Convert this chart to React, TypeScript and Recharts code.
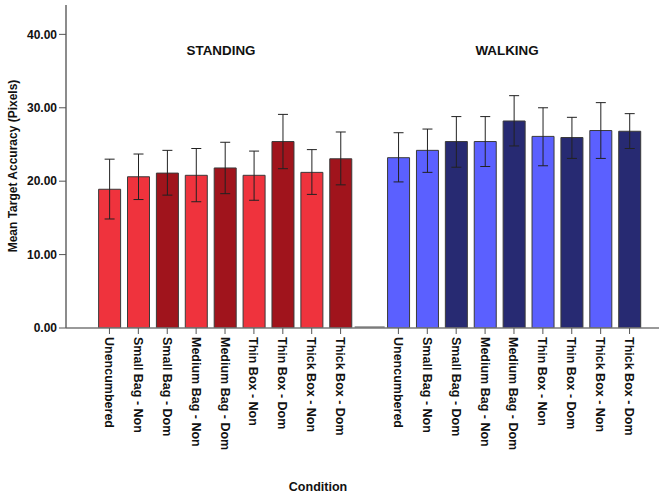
import React from "react";
import { BarChart, Bar, XAxis, YAxis, ErrorBar, Cell, Rectangle } from "recharts";

const conditions = [
  "Unencumbered",
  "Small Bag - Non",
  "Small Bag - Dom",
  "Medium Bag - Non",
  "Medium Bag - Dom",
  "Thin Box - Non",
  "Thin Box - Dom",
  "Thick Box - Non",
  "Thick Box - Dom",
];

// mean and 95% CI bounds
const standingMean = [18.9, 20.6, 21.1, 20.8, 21.8, 20.8, 25.4, 21.2, 23.05];
const standingLow = [14.85, 17.5, 18.1, 17.2, 18.3, 17.4, 21.7, 18.2, 19.5];
const standingHigh = [23.0, 23.7, 24.2, 24.45, 25.3, 24.1, 29.1, 24.3, 26.7];

const walkingMean = [23.2, 24.2, 25.4, 25.4, 28.2, 26.1, 25.95, 26.9, 26.8];
const walkingLow = [19.9, 21.2, 21.9, 22.0, 24.8, 22.1, 23.1, 23.1, 24.45];
const walkingHigh = [26.6, 27.1, 28.8, 28.8, 31.65, 30.0, 28.7, 30.7, 29.2];

const yTicks = [0, 10, 20, 30, 40];

const FONT = "'Liberation Sans', Arial, sans-serif";

type Row = {
  key: string;
  label: string;
  group: string;
  mean: number;
  err?: [number, number];
};

const build = (group: string, mean: number[], low: number[], high: number[]): Row[] =>
  conditions.map((c, i) => ({
    key: `${group}:${c}`,
    label: c,
    group,
    mean: mean[i],
    err: [mean[i] - low[i], high[i] - mean[i]],
  }));

const data: Row[] = [
  ...build("S", standingMean, standingLow, standingHigh),
  { key: "gap", label: "", group: "gap", mean: 0 },
  ...build("W", walkingMean, walkingLow, walkingHigh),
];

const colorFor = (r: Row) => {
  const dom = r.label.endsWith("Dom");
  if (r.group === "S") return dom ? "#a0141c" : "#ef333d";
  if (r.group === "W") return dom ? "#272a72" : "#5b60ff";
  return "none";
};

const XTick = (props: any) => {
  const { x, y, payload } = props;
  const row = data.find((d) => d.key === payload.value);
  if (!row || row.group === "gap") return null;
  return (
    <g transform={`translate(${x},${y})`}>
      <line x1={0} y1={0} x2={0} y2={6} stroke="#555" strokeWidth={1} />
      <text
        transform="rotate(90)"
        x={9}
        y={0}
        dy="0.36em"
        textAnchor="start"
        fontFamily={FONT}
        fontWeight="bold"
        fontSize={12.5}
        fill="#111"
      >
        {row.label}
      </text>
    </g>
  );
};

const BarShape = (props: any) => {
  const { x, y, width, height, payload } = props;
  if (payload.group === "gap") {
    return (
      <line x1={x - 4} x2={x + width + 4} y1={y + height - 0.5} y2={y + height - 0.5} stroke="#888" strokeWidth={2.5} />
    );
  }
  return <Rectangle {...props} />;
};

export default function App() {
  return (
    <div style={{ position: "absolute", left: 0, top: 0, width: 659, height: 497, background: "#fff", fontFamily: FONT }}>
      <BarChart
        width={659}
        height={497}
        data={data}
        margin={{ top: 5, right: 0, bottom: 0, left: 0 }}
        barCategoryGap="12.5%"
      >
        <XAxis
          dataKey="key"
          type="category"
          interval={0}
          height={169}
          tickSize={0}
          tickMargin={0}
          tickLine={false}
          tick={<XTick />}
          padding={{ left: 29, right: 15 }}
          axisLine={{ stroke: "#777", strokeWidth: 1.5 }}
        />
        <YAxis
          width={66}
          domain={[0, 44]}
          ticks={yTicks}
          interval={0}
          tickFormatter={(v: number) => v.toFixed(2)}
          tickSize={7}
          tickMargin={2}
          tick={{ fontFamily: FONT, fontWeight: "bold", fontSize: 12, fill: "#111" }}
          tickLine={{ stroke: "#555" }}
          axisLine={{ stroke: "#666", strokeWidth: 1.5 }}
          allowDataOverflow
        />
        <Bar dataKey="mean" isAnimationActive={false} stroke="#3a3a3a" strokeWidth={1} shape={<BarShape />}>
          {data.map((r) => (
            <Cell key={r.key} fill={colorFor(r)} />
          ))}
          <ErrorBar dataKey="err" direction="y" width={5} stroke="#222" strokeWidth={1} isAnimationActive={false} />
        </Bar>
      </BarChart>

      <div style={{ position: "absolute", left: 221, top: 50, transform: "translate(-50%,-50%)", fontWeight: "bold", fontSize: 13.4, color: "#111", whiteSpace: "nowrap" }}>
        STANDING
      </div>
      <div style={{ position: "absolute", left: 507, top: 50, transform: "translate(-50%,-50%)", fontWeight: "bold", fontSize: 13.4, color: "#111", whiteSpace: "nowrap" }}>
        WALKING
      </div>
      <div
        style={{
          position: "absolute",
          left: 13,
          top: 166,
          transform: "translate(-50%,-50%) rotate(-90deg)",
          fontWeight: "bold",
          fontSize: 12,
          color: "#111",
          whiteSpace: "nowrap",
        }}
      >
        Mean Target Accuracy (Pixels)
      </div>
      <div style={{ position: "absolute", left: 318, top: 487, transform: "translate(-50%,-50%)", fontWeight: "bold", fontSize: 12.5, color: "#111", whiteSpace: "nowrap" }}>
        Condition
      </div>
    </div>
  );
}
